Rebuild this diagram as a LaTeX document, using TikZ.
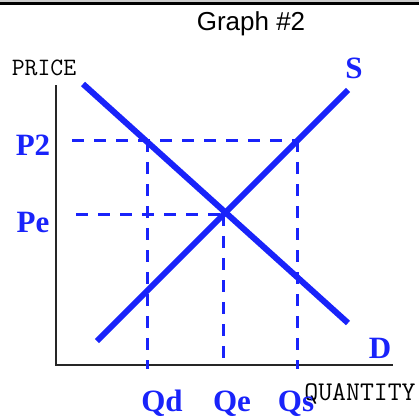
\documentclass[tikz,border=0pt]{standalone}
\usepackage{fontspec}
\setmainfont{Liberation Serif}
\setsansfont{Liberation Sans}
\usetikzlibrary{positioning,calc}
\definecolor{curveblue}{RGB}{25,35,250}

\begin{document}
\begin{tikzpicture}[x=1pt,y=-1pt,
        curve/.style={draw=curveblue, line width=6pt},
        guide/.style={draw=curveblue, line width=3pt, dash pattern=on 12pt off 10pt},
        axis/.style={draw=black!85, line width=2pt},
        bluelabel/.style={text=curveblue, font=\fontsize{31}{31}\selectfont\bfseries, inner sep=0pt, anchor=base},
        axislabel/.style={font=\fontsize{25}{25}\selectfont\ttfamily, inner sep=0pt, anchor=base},
      ]
      \useasboundingbox (0,0) rectangle (419,420);
      % top rule
      \fill [black!20] (0,0) rectangle (419,2);
      \fill [black] (0,2) rectangle (419,5);
      \node [font=\fontsize{26}{26}\sffamily, inner sep=0pt, anchor=base] (title) at (251,31) {Graph \#2};

      % axes
      \coordinate (ytop) at (56,85);
      \coordinate (origin) at (56,365);
      \coordinate (xend) at (393,365);
      \draw [axis] (ytop) -- (origin) -- (xend);
      \node [axislabel] (price) at (44,75) {PRICE};
      \node [axislabel, font=\fontsize{27}{27}\selectfont\ttfamily] (quantity) at (360,400) {QUANTITY};

      % guide points
      \coordinate (p2left) at (72,140);
      \coordinate (peleft) at (76,214);
      \coordinate (dp2) at (147,140);
      \coordinate (sp2) at (297,140);
      \coordinate (eq) at (223,214);
      \coordinate (qdbot) at (147,369);
      \coordinate (qebot) at (223,365);
      \coordinate (qsbot) at (297,369);
      \draw [guide] (p2left) -- (sp2);
      \draw [guide] (peleft) -- (eq);
      \draw [guide] (dp2) -- (qdbot);
      \draw [guide] (eq) -- (qebot);
      \draw [guide] (sp2) -- (qsbot);

      % curves
      \coordinate (dstart) at (83,84);
      \coordinate (dend) at (348,323);
      \coordinate (sstart) at (97,341);
      \coordinate (send) at (348,90);
      \draw [curve] (dstart) -- (dend);
      \draw [curve] (sstart) -- (send);

      % labels
      \node [bluelabel] (slabel) at (354,78) {S};
      \node [bluelabel] (dlabel) at (380,358) {D};
      \node [bluelabel] (p2) at (33,155) {P2};
      \node [bluelabel] (pe) at (33,232) {Pe};
      \node [bluelabel] (qd) at (162,411) {Qd};
      \node [bluelabel] (qe) at (232,411) {Qe};
      \node [bluelabel] (qs) at (296,411) {Qs};
    \end{tikzpicture}
\end{document}
